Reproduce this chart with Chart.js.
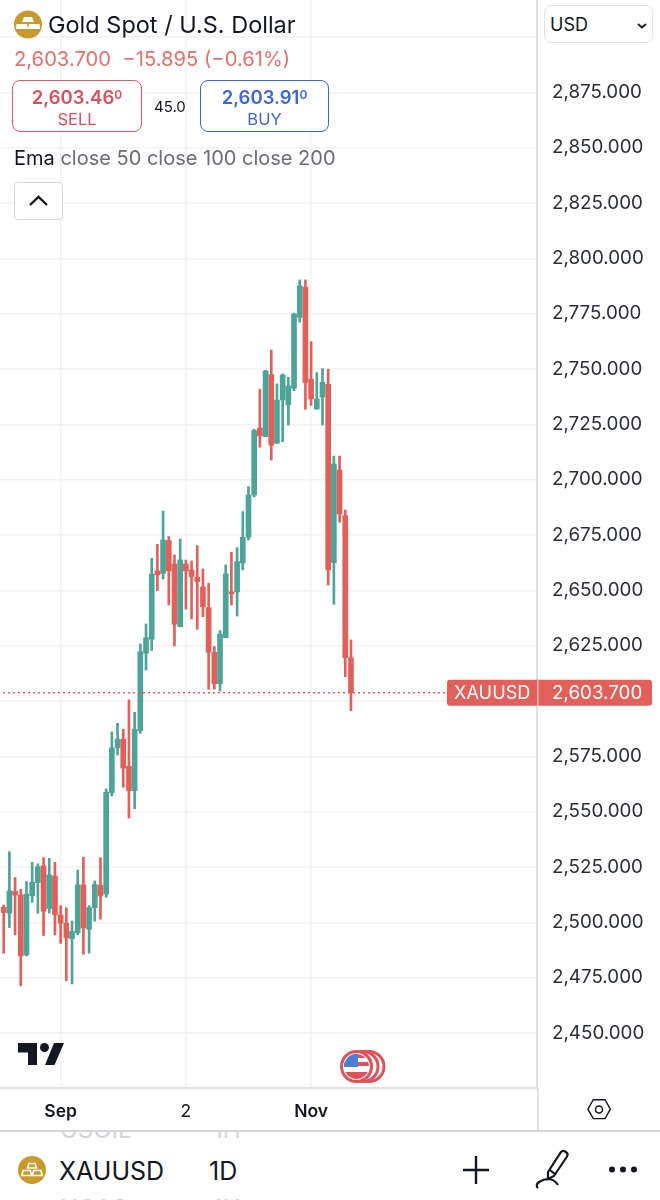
<!DOCTYPE html>
<html>
<head>
<meta charset="utf-8">
<title>XAUUSD</title>
<script src="https://cdn.jsdelivr.net/npm/chart.js@4"></script>
<style>
  html, body { margin: 0; padding: 0; background: #fff; }
  body { width: 660px; height: 1200px; position: relative; overflow: hidden; font-family: Inter, sans-serif; color: #131722; }
  canvas { position: absolute; left: 0; top: 0; }
  .abs { position: absolute; white-space: nowrap; line-height: 1; }
  .box { position: absolute; box-sizing: border-box; background: #fff; border-radius: 8px; border: 1.5px solid; text-align: center; }
  .box .price { position: absolute; left: 0; right: 0; top: 5px; font-size: 18.5px; font-weight: 600; line-height: 22px; }
  .box .price sup { font-size: 12px; line-height: 0; font-weight: 600; vertical-align: 5px; }
  .box .side { position: absolute; left: 0; right: 0; top: 28px; font-size: 16.5px; line-height: 20px; }
  .footer { position: absolute; left: 0; top: 1131px; width: 660px; height: 69px; background: #fff; overflow: hidden; }
  svg { position: absolute; overflow: visible; }
</style>
</head>
<body>
<canvas id="chart" width="660" height="1200"></canvas>

<!-- header over the chart -->
<svg style="left:0;top:0" width="60" height="50">
  <circle cx="28" cy="24.5" r="14" fill="#c99a2e"/>
  <path d="M24 17h8l2 5H22zM16.5 24h10.5l1 5H16zM29 24h10.5l.5 5H28z" fill="#fff"/>
</svg>
<div class="abs" style="left:48px;top:13px;font-size:23.5px;">Gold Spot / U.S. Dollar</div>
<div class="abs" style="left:14px;top:49px;font-size:20.2px;color:#e0736d;">2,603.700&nbsp; −15.895 (−0.61%)</div>

<div class="box" style="left:12px;top:80px;width:130px;height:52px;border-color:#dc5a62;color:#d9505a;">
  <div class="price">2,603.46<sup>0</sup></div><div class="side">SELL</div>
</div>
<div class="abs" style="left:154px;top:99px;font-size:15px;">45.0</div>
<div class="box" style="left:200px;top:80px;width:129px;height:52px;border-color:#3f66d8;color:#3f66d8;">
  <div class="price">2,603.91<sup>0</sup></div><div class="side">BUY</div>
</div>
<div class="abs" style="left:14px;top:148px;font-size:20px;color:#6a6d78;"><span style="color:#131722">Ema</span> close 50 close 100 close 200</div>

<div class="box" style="left:14px;top:182px;width:49px;height:38px;border-color:#d8d9de;border-radius:4px;"></div>
<svg style="left:14px;top:182px" width="49" height="38">
  <path d="M16 23l8.5-8 8.5 8" fill="none" stroke="#131722" stroke-width="2.4"/>
</svg>

<div class="box" style="left:544px;top:5px;width:109px;height:38px;border-color:#e2e3e8;border-radius:7px;"></div>
<div class="abs" style="left:550px;top:16px;font-size:18px;">USD</div>
<svg style="left:630px;top:18px" width="20" height="14">
  <path d="M8 6l4 3.5L16 6" fill="none" stroke="#131722" stroke-width="1.8"/>
</svg>

<!-- logo and event marker -->
<svg style="left:0;top:1030px" width="80" height="50">
  <path d="M18 13h19v22h-9V22.5H18zM54 13h10l-9.5 22H45z" fill="#131722"/>
  <circle cx="44.5" cy="17.5" r="4.5" fill="#131722"/>
</svg>
<svg style="left:335px;top:1045px" width="55" height="45">
  <circle cx="34" cy="21.5" r="15" fill="#fff" stroke="#e0525a" stroke-width="3"/>
  <circle cx="28" cy="21.5" r="15" fill="#fff" stroke="#e0525a" stroke-width="3"/>
  <circle cx="21.5" cy="21.5" r="15" fill="#fff" stroke="#e0525a" stroke-width="3"/>
  <clipPath id="flag"><circle cx="21.5" cy="21.5" r="12.5"/></clipPath>
  <g clip-path="url(#flag)">
    <rect x="9" y="9" width="25" height="4" fill="#e0525a"/>
    <rect x="9" y="17" width="25" height="4" fill="#e0525a"/>
    <rect x="9" y="27" width="25" height="7" fill="#e0525a"/>
    <rect x="9" y="9" width="14" height="13" fill="#4a7fd6"/>
  </g>
</svg>

<div class="abs" style="left:537px;top:1088px;width:2px;height:43px;background:#dfe0e3;"></div>
<svg style="left:586px;top:1097px" width="28" height="28">
  <path d="M7 3h13l6 10.5L20 24H7L1 13.500z" transform="translate(1 0) scale(.9)" fill="none" stroke="#131722" stroke-width="1.6"/>
  <circle cx="13" cy="12.500" r="3.500" fill="none" stroke="#131722" stroke-width="1.500"/>
</svg>

<!-- symbol toolbar -->
<div class="footer">
  <div class="abs" style="left:60px;top:-13px;font-size:24px;color:#d4d5d9;">USOIL</div>
  <div class="abs" style="left:213px;top:-13px;font-size:24px;color:#d4d5d9;">1H</div>
  <div class="abs" style="left:60px;top:66px;font-size:24px;color:#d4d5d9;">NGAS</div>
  <div class="abs" style="left:213px;top:66px;font-size:24px;color:#d4d5d9;">1H</div>
  <svg style="left:18px;top:25px" width="30" height="30">
    <circle cx="14" cy="14" r="14" fill="#c99a2e"/>
    <path d="M11 7.500h6l1.500 4.500H9.500zM5 14.500h7.500l1 5H4zM15.500 14.500H23l1 5H14.500z" fill="none" stroke="#fff" stroke-width="1.600"/>
  </svg>
  <div class="abs" style="left:59px;top:28px;font-size:25px;">XAUUSD</div>
  <div class="abs" style="left:209px;top:28px;font-size:25px;">1D</div>
  <svg style="left:460px;top:23px" width="34" height="34">
    <path d="M16 2v28M3 16h26" stroke="#131722" stroke-width="2.400"/>
  </svg>
  <svg style="left:533px;top:16px" width="40" height="50">
  <path d="M15 25L28 5q2-2 4-.5l1.500 1q2 1.500 .5 4L21 29l-6 3zM17 23l6 5M5 41q-3-3 1-6 5-3 9-3 6 0 10 6" fill="none" stroke="#131722" stroke-width="2.200"/>
  </svg>
  <svg style="left:605px;top:30px" width="40" height="14">
    <circle cx="7" cy="8.500" r="3" fill="#131722"/><circle cx="18" cy="8.500" r="3" fill="#131722"/><circle cx="29" cy="8.500" r="3" fill="#131722"/>
  </svg>
</div>
<div class="abs" style="left:0;top:1130px;width:660px;height:1.500px;background:#d5d6d9;"></div>

<script>
// Daily candles
const opens = [2506.8, 2504.1, 2514, 2512.3, 2485.2, 2512, 2517.9, 2525.5, 2506.2, 2520.9,
    2503.3, 2499.6, 2492.6, 2495.3, 2516.9, 2496.8, 2506.6, 2516.7, 2512.8, 2558.6,
    2578.9, 2582.7, 2570.5, 2559.5, 2586.6, 2621.6, 2627.9, 2658.8, 2657.7, 2672.5,
    2661.9, 2633.6, 2661.9, 2659.1, 2655.9, 2651.5, 2642.2, 2622, 2607.8, 2628.6,
    2649.3, 2649.3, 2662.4, 2674, 2693.1, 2723.3, 2719.5, 2747.5, 2716.5, 2736,
    2733.9, 2741.3, 2773.4, 2787, 2745.4, 2732, 2737.4, 2743.1, 2662.5, 2704.4,
    2683.8, 2619.6];
const highs = [2507.8, 2531.9, 2520.2, 2514.9, 2518.4, 2527.1, 2526.4, 2529.2, 2528.9, 2527.1,
    2507.5, 2506.6, 2500.6, 2523.6, 2529.4, 2507.5, 2518.7, 2529.2, 2560.3, 2586.1,
    2589.9, 2587.2, 2600.5, 2594.9, 2625.8, 2634.8, 2664.5, 2670.8, 2685.9, 2674.3,
    2666, 2673.2, 2663.7, 2663.3, 2670.2, 2659.7, 2653.2, 2624.6, 2631.8, 2661.5,
    2667.2, 2669.3, 2685.6, 2696.9, 2722.8, 2740.9, 2749.5, 2758.6, 2743.3, 2747.8,
    2746.3, 2775.3, 2790.3, 2790.3, 2762.4, 2748.4, 2750.2, 2749.9, 2710.7, 2710.7,
    2686.3, 2627.6];
const lows = [2486, 2497.6, 2494.3, 2471.2, 2484.8, 2509, 2504.1, 2494, 2504.1, 2494.3,
    2490.5, 2473.6, 2472.1, 2494.3, 2485.6, 2486, 2500.5, 2501.4, 2511.3, 2557.1,
    2575.6, 2561, 2547.1, 2551.3, 2585.4, 2614, 2622.8, 2649.9, 2655.1, 2643.4,
    2624.9, 2633.6, 2641.5, 2637.1, 2632.4, 2638.1, 2605.3, 2605.4, 2604.5, 2628.6,
    2643.4, 2638.4, 2659.2, 2672.8, 2692.2, 2714.7, 2719.5, 2708.9, 2716.5, 2717.2,
    2724.7, 2740.2, 2771.2, 2731.8, 2733.6, 2731.8, 2724.7, 2652.4, 2643.7, 2680.8,
    2611, 2595.6];
const closes = [2504.4, 2514.2, 2512.3, 2484.8, 2512.7, 2518.1, 2525.1, 2505, 2521.4, 2503.4,
    2499.6, 2492.9, 2495.8, 2516.9, 2497.4, 2506.6, 2517, 2511.9, 2558.8, 2578.8,
    2582.7, 2569.7, 2559.5, 2587.2, 2622.3, 2628.6, 2657.4, 2657, 2672.8, 2658.8,
    2634.7, 2663.7, 2658.8, 2656.2, 2653.9, 2642.6, 2622, 2607.8, 2630.2, 2657.4,
    2648.4, 2663, 2674, 2693.1, 2722.2, 2719.8, 2749.1, 2715.6, 2736, 2747.3,
    2742.4, 2774.9, 2787.6, 2743.9, 2736.5, 2736.5, 2744, 2659.2, 2707.1, 2684.5,
    2619.6, 2603.7];

const lastPrice = 2603.7;
const priceTicks = [2450, 2475, 2500, 2525, 2550, 2575, 2600, 2625, 2650, 2675,
    2700, 2725, 2750, 2775, 2800, 2825, 2850, 2875, 2900];
const dateTicks = [10, 32, 54]; // candle index of each date label
const dateLabels = ['Sep', '2', 'Nov'];

const GREEN = '#4fa398';
const RED = '#e1605a';
const GRID = '#f2f2f4';
const AXIS = '#dfe0e3';

const candleColor = closes.map((c, i) => (c >= opens[i] ? GREEN : RED));

function formatPrice(v) {
    return v.toLocaleString('en-US', { minimumFractionDigits: 3, maximumFractionDigits: 3 });
}

// Chart.js reserves room for half a label at the ends, the chart here runs to the edge
function noAxisPadding(axis) {
    axis.paddingTop = 0;
    axis.paddingBottom = 0;
    axis.paddingLeft = 0;
    axis.paddingRight = 0;
}

// 2,900 sits under the currency box and 2,600 under the price tag
function priceLabel(v) {
    if (v > 2875 || Math.abs(v - lastPrice) < 10) return '';
    return formatPrice(v);
}

// Last price tag sitting across the price axis
const priceTag = {
    id: 'priceTag',
    afterDraw(chart) {
        const { ctx, scales } = chart;
        const y = scales.y.getPixelForValue(lastPrice);
        ctx.save();
        ctx.fillStyle = RED;
        ctx.beginPath();
        ctx.roundRect(447, y - 13, 205, 26, 3);
        ctx.fill();
        ctx.fillStyle = 'rgba(255,255,255,0.6)';
        ctx.fillRect(chart.chartArea.right, y - 13, 1.5, 26);
        ctx.fillStyle = '#fff';
        ctx.textBaseline = 'middle';
        ctx.font = '18.2px Inter';
        ctx.fillText('XAUUSD', 454, y + 1);
        ctx.font = '18.8px Inter';
        ctx.fillText(formatPrice(lastPrice), 552, y + 1);
        ctx.restore();
    }
};

new Chart(document.getElementById('chart'), {
    data: {
        datasets: [
            {
                type: 'line',
                data: [{ x: -1, y: lastPrice }, { x: 78, y: lastPrice }],
                borderColor: RED,
                borderWidth: 1.5,
                borderDash: [2, 3],
                pointRadius: 0
            },
            {
                type: 'bar',
                data: highs.map((h, i) => ({ x: i, y: [lows[i], h] })),
                backgroundColor: candleColor,
                barThickness: 2,
                grouped: false
            },
            {
                type: 'bar',
                data: opens.map((o, i) => ({ x: i, y: [o, closes[i]] })),
                backgroundColor: candleColor,
                barThickness: 5,
                grouped: false
            }
        ]
    },
    options: {
        responsive: false,
        animation: false,
        events: [],
        layout: { padding: { bottom: 69 } },
        plugins: { legend: { display: false }, tooltip: { enabled: false } },
        scales: {
            x: {
                type: 'linear',
                offset: false,
                min: -0.65,
                max: 93.68,
                afterBuildTicks: axis => { axis.ticks = dateTicks.map(v => ({ value: v })); },
                afterFit: axis => { axis.height = 43; noAxisPadding(axis); },
                grid: { color: GRID, lineWidth: 1.5, drawTicks: false, offset: false },
                border: { color: AXIS, width: 2 },
                ticks: {
                    autoSkip: false,
                    maxRotation: 0,
                    padding: 13,
                    color: '#131722',
                    font: ctx => ({ family: 'Inter', size: 17.5, weight: ctx.index === 1 ? 'normal' : '600' }),
                    callback: (v, i) => dateLabels[i]
                }
            },
            y: {
                position: 'right',
                min: 2425.1,
                max: 2916.8,
                afterBuildTicks: axis => { axis.ticks = priceTicks.map(v => ({ value: v })); },
                afterFit: axis => { axis.width = 123; noAxisPadding(axis); },
                grid: { color: GRID, lineWidth: 1.5, drawTicks: false },
                border: { color: AXIS, width: 2 },
                ticks: {
                    padding: 15,
                    color: '#2a2e39',
                    font: { family: 'Inter', size: 18.8 },
                    callback: priceLabel
                }
            }
        }
    },
    plugins: [priceTag]
});
</script>
</body>
</html>
